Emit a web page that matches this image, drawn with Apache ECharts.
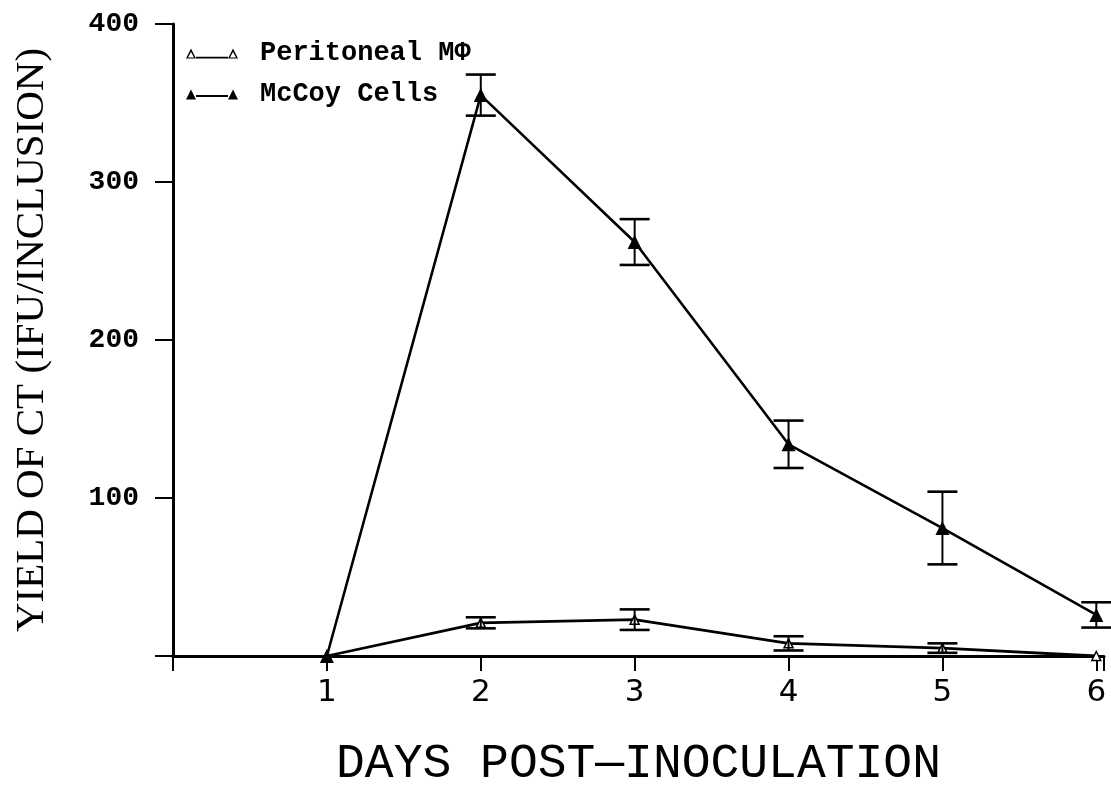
<!DOCTYPE html>
<html>
<head>
<meta charset="utf-8">
<script src="https://cdn.jsdelivr.net/npm/echarts@6/dist/echarts.min.js"></script>
<style>
  html, body { margin: 0; padding: 0; background: #fff; }
  #chart { width: 1111px; height: 793px; }
</style>
</head>
<body>
<div id="chart"></div>
<script>
// Yield of CT per inclusion, by day after inoculation (mean ± error)
const days = [1, 2, 3, 4, 5, 6];
const mccoyMean = [0, 355, 262, 134, 81, 26];
const mccoyErr  = [0, 13, 14.5, 15, 23, 8];
const periMean  = [0, 21, 23, 8, 5, 0];
const periErr   = [0, 3.5, 6.5, 4.5, 3, 0];

const INK = '#000';
const MONO = '"Liberation Mono", "DejaVu Sans Mono", monospace';

function pairs(means) {
  return days.map((d, i) => [d, means[i]]);
}
function errRows(means, errs) {
  return days.map((d, i) => [d, means[i] - errs[i], means[i] + errs[i]]);
}

// Error bar: vertical stem with horizontal caps
function renderErr(params, api) {
  const x = api.value(0);
  const lo = api.value(1);
  const hi = api.value(2);
  if (hi - lo <= 0) return null;
  const pLo = api.coord([x, lo]);
  const pHi = api.coord([x, hi]);
  const half = 15;
  const style = { stroke: INK, lineWidth: 2.6, fill: null };
  return {
    type: 'group',
    children: [
      { type: 'line', shape: { x1: pLo[0], y1: pLo[1], x2: pHi[0], y2: pHi[1] }, style: { stroke: INK, lineWidth: 2 } },
      { type: 'line', shape: { x1: pHi[0] - half, y1: pHi[1], x2: pHi[0] + half, y2: pHi[1] }, style },
      { type: 'line', shape: { x1: pLo[0] - half, y1: pLo[1], x2: pLo[0] + half, y2: pLo[1] }, style }
    ]
  };
}

// Legend keys: a line with a triangle at each end (open / filled)
const keyFilled = 'path://M0,10 L5,0 L10,10 Z M10,5.6 L42,5.6 L42,7.6 L10,7.6 Z M42,10 L47,0 L52,10 Z';
const keyOpen = 'path://M0,10 L5,0 L10,10 Z M2,9 L8,9 L5,3.5 Z M10,8.2 L42,8.2 L42,10 L10,10 Z M42,10 L47,0 L52,10 Z M44,9 L50,9 L47,3.5 Z';

const chart = echarts.init(document.getElementById('chart'), null, { renderer: 'canvas' });

chart.setOption({
  backgroundColor: '#fff',
  animation: false,
  grid: { left: 173, right: 7, top: 24, bottom: 131 },
  legend: {
    orient: 'vertical',
    left: 186,
    top: 40,
    padding: 0,
    itemWidth: 52,
    itemHeight: 11,
    itemGap: 14,
    selectedMode: false,
    textStyle: { fontFamily: MONO, fontWeight: 'bold', fontSize: 27, color: INK, padding: [0, 0, 0, 17] },
    data: [
      { name: 'Peritoneal MΦ', icon: keyOpen, itemStyle: { color: INK, borderWidth: 0 } },
      { name: 'McCoy Cells', icon: keyFilled, itemStyle: { color: INK, borderWidth: 0 } }
    ]
  },
  xAxis: {
    type: 'value',
    min: 0,
    max: 6.05,
    interval: 1,
    name: 'DAYS POST\u2014INOCULATION',
    nameLocation: 'middle',
    nameGap: 84,
    nameTextStyle: { fontFamily: MONO, fontSize: 48, color: INK },
    axisLine: { show: true, onZero: true, lineStyle: { color: INK, width: 3 } },
    axisTick: { show: true, length: 15, lineStyle: { color: INK, width: 2 } },
    axisLabel: {
      margin: 21,
      fontFamily: '"DejaVu Sans", sans-serif',
      fontSize: 31,
      color: INK,
      formatter: v => (v >= 1 && Number.isInteger(v) ? String(v) : '')
    },
    splitLine: { show: false }
  },
  yAxis: {
    type: 'value',
    min: 0,
    max: 400,
    interval: 100,
    name: 'YIELD OF CT (IFU/INCLUSION)',
    nameLocation: 'middle',
    nameGap: 120,
    nameRotate: 90,
    nameTextStyle: { fontFamily: '"Liberation Serif", serif', fontSize: 41, color: INK },
    axisLine: { show: true, onZero: true, lineStyle: { color: INK, width: 3 } },
    axisTick: { show: true, length: 18, lineStyle: { color: INK, width: 2 } },
    axisLabel: {
      margin: 34,
      fontFamily: MONO,
      fontWeight: 'bold',
      fontSize: 28,
      color: INK,
      formatter: v => (v > 0 ? String(v) : '')
    },
    splitLine: { show: false }
  },
  series: [
    {
      name: 'Peritoneal MΦ',
      type: 'line',
      data: pairs(periMean),
      symbol: 'triangle',
      symbolSize: 9,
      itemStyle: { color: '#fff', borderColor: INK, borderWidth: 1.5 },
      lineStyle: { color: INK, width: 2.8 },
      z: 3
    },
    {
      name: 'McCoy Cells',
      type: 'line',
      data: pairs(mccoyMean),
      symbol: 'triangle',
      symbolSize: 14,
      itemStyle: { color: INK },
      lineStyle: { color: INK, width: 2.6 },
      z: 3
    },
    {
      name: 'peritoneal-err',
      type: 'custom',
      renderItem: renderErr,
      data: errRows(periMean, periErr),
      encode: { x: 0, y: [1, 2] },
      z: 4,
      silent: true
    },
    {
      name: 'mccoy-err',
      type: 'custom',
      renderItem: renderErr,
      data: errRows(mccoyMean, mccoyErr),
      encode: { x: 0, y: [1, 2] },
      z: 4,
      silent: true
    }
  ]
});
</script>
</body>
</html>
